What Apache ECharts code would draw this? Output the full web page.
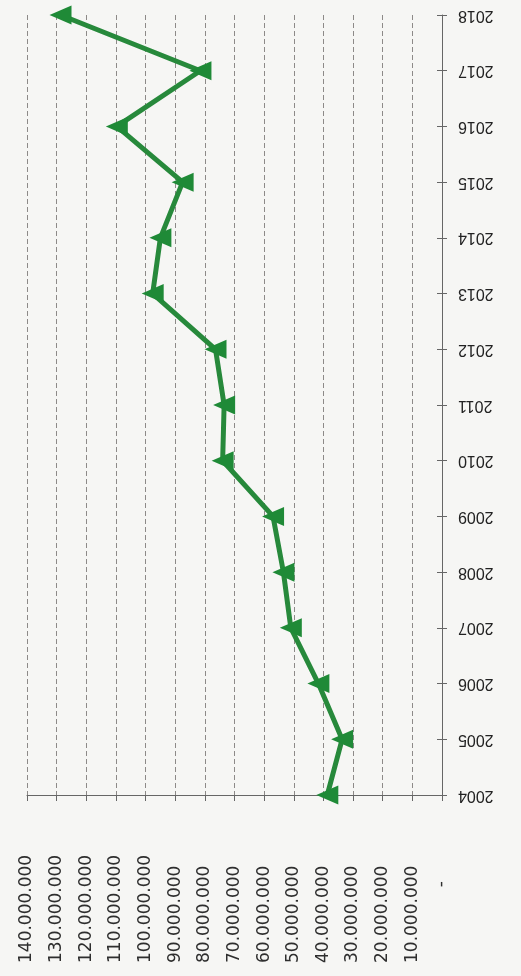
<!DOCTYPE html>
<html>
<head>
<meta charset="utf-8">
<script src="https://cdn.jsdelivr.net/npm/echarts@6/dist/echarts.min.js"></script>
<style>
html,body{margin:0;padding:0;background:#f6f6f4;}
#chart{width:521px;height:976px;}
</style>
</head>
<body>
<div id="chart"></div>
<script>
var years = ['2004','2005','2006','2007','2008','2009','2010','2011','2012','2013','2014','2015','2016','2017','2018'];
var values = [38700000, 33700000, 41700000, 51000000, 53500000, 57000000, 74000000, 73500000, 76400000, 97600000, 95000000, 87500000, 109700000, 81500000, 128700000];
var tickValues = [0, 10000000, 20000000, 30000000, 40000000, 50000000, 60000000, 70000000, 80000000, 90000000, 100000000, 110000000, 120000000, 130000000, 140000000];
var tickLabels = ['-', '10.000.000', '20.000.000', '30.000.000', '40.000.000', '50.000.000', '60.000.000', '70.000.000', '80.000.000', '90.000.000', '100.000.000', '110.000.000', '120.000.000', '130.000.000', '140.000.000'];

var chart = echarts.init(document.getElementById('chart'));
chart.setOption({
  backgroundColor: '#f6f6f4',
  animation: false,
  grid: { left: 27, right: 79, top: 15, bottom: 181, containLabel: false },
  xAxis: {
    type: 'value',
    inverse: true,
    min: 0,
    max: 140000000,
    interval: 10000000,
    axisLine: { show: true, lineStyle: { color: '#666', width: 1 } },
    axisTick: { show: true, length: 6, lineStyle: { color: '#666' } },
    splitLine: { show: true, lineStyle: { color: '#8d8a88', type: [5, 3], width: 1 } },
    axisLabel: {
      rotate: 90,
      align: 'left',
      verticalAlign: 'middle',
      margin: 168,
      color: '#2e2e2e',
      fontFamily: 'DejaVu Sans',
      fontSize: 17,
      formatter: function (v) {
        var i = tickValues.indexOf(v);
        var s = i >= 0 ? tickLabels[i] : '';
        if (v === 0) return '\u00a0'.repeat(14) + s;
        return s;
      }
    }
  },
  yAxis: [{
    type: 'category',
    data: years,
    position: 'right',
    boundaryGap: false,
    axisLine: { show: true, onZero: false, lineStyle: { color: '#666', width: 1 } },
    axisTick: { show: true, length: 5, lineStyle: { color: '#666' } },
    splitLine: { show: false },
    axisLabel: {
      rotate: 180,
      margin: 16,
      color: '#222',
      fontFamily: 'Liberation Sans',
      fontSize: 16,
      padding: [0, 0, 6, 0]
    }
  }, {
    type: 'category',
    data: years,
    position: 'right',
    boundaryGap: false,
    axisLine: { show: false },
    axisTick: { show: true, inside: true, length: 5, lineStyle: { color: '#666' } },
    splitLine: { show: false },
    axisLabel: { show: false }
  }],
  series: [{
    type: 'line',
    yAxisIndex: 0,
    data: values,
    symbol: 'triangle',
    symbolSize: [19, 22],
    symbolRotate: 90,
    lineStyle: { color: '#27893b', width: 5 },
    itemStyle: { color: '#1f8a37' }
  }]
});
</script>
</body>
</html>
